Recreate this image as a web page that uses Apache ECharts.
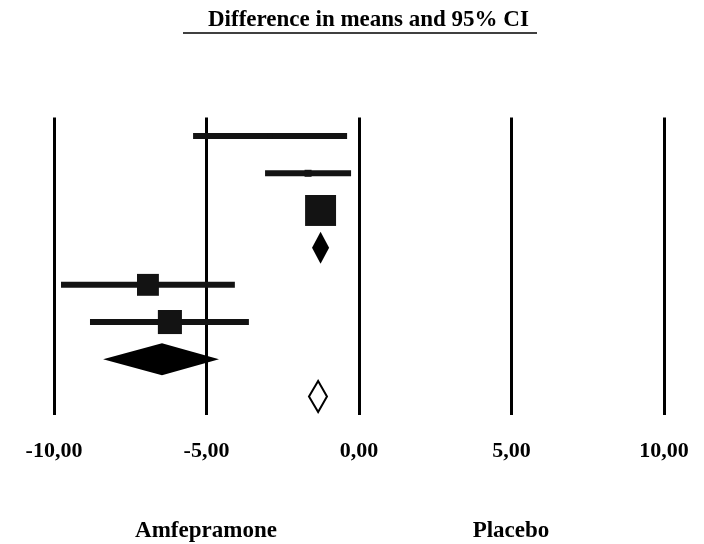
<!DOCTYPE html>
<html>
<head>
<meta charset="utf-8">
<script src="https://cdn.jsdelivr.net/npm/echarts@6/dist/echarts.min.js"></script>
<style>
  html, body { margin: 0; padding: 0; background: #fff; }
  #chart { width: 704px; height: 544px; }
</style>
</head>
<body>
<div id="chart"></div>
<script>
// Forest plot: difference in means with 95% CI, one row per study / pooled estimate
var rowKinds   = ['study', 'study', 'study', 'pooled', 'study', 'study', 'pooled', 'overall'];
var estimates  = [-2.92, -1.67, -1.26, -1.26, -6.92, -6.20, -6.46, -1.34];
var lowerCI    = [-5.44, -3.08, -1.52, -1.54, -9.77, -8.82, -8.39, -1.64];
var upperCI    = [-0.39, -0.26, -1.00, -0.98, -4.07, -3.61, -4.59, -1.05];
var weights    = [2.5, 4.9, 96, 0, 48, 58, 0, 0];
var tickValues = [-10, -5, 0, 5, 10];
var sideLabels = ['Amfepramone', 'Placebo'];

var rowIds = rowKinds.map(function (k, i) { return 'r' + i; });
var data = rowKinds.map(function (k, i) {
  return [i, estimates[i], lowerCI[i], upperCI[i], weights[i]];
});

var FONT = '"Liberation Serif", "DejaVu Serif", serif';
var chart = echarts.init(document.getElementById('chart'), null, { renderer: 'canvas' });

function renderRow(params, api) {
  var i = api.value(0);
  var kind = rowKinds[i];
  var est = api.coord([api.value(1), i]);
  var lo = api.coord([api.value(2), i]);
  var hi = api.coord([api.value(3), i]);
  var y = est[1];
  var children = [];
  if (kind === 'study') {
    children.push({
      type: 'line',
      shape: { x1: lo[0], y1: y, x2: hi[0], y2: y },
      style: { stroke: '#131313', lineWidth: 6 }
    });
    var side = Math.sqrt(api.value(4)) * 3.16;
    children.push({
      type: 'rect',
      shape: { x: est[0] - side / 2, y: y - side / 2, width: side, height: side },
      style: { fill: '#131313' }
    });
  } else {
    var h = kind === 'overall' ? 15.5 : 16;
    children.push({
      type: 'polygon',
      shape: { points: [[lo[0], y], [est[0], y - h], [hi[0], y], [est[0], y + h]] },
      style: kind === 'overall'
        ? { fill: '#fff', stroke: '#000', lineWidth: 2 }
        : { fill: '#000' }
    });
  }
  return { type: 'group', children: children };
}

chart.setOption({
  animation: false,
  backgroundColor: '#fff',
  title: {
    text: 'Difference in means and 95% CI',
    left: 203,
    top: 4,
    textStyle: { fontFamily: FONT, fontSize: 23, fontWeight: 'bold', color: '#000' }
  },
  graphic: [
    { type: 'line', shape: { x1: 183, y1: 33, x2: 537, y2: 33 }, style: { stroke: '#000', lineWidth: 1.5 } },
    { type: 'text', x: 206, y: 531, style: { text: sideLabels[0], fontFamily: FONT, fontSize: 23, fontWeight: 'bold', fill: '#000', align: 'center', verticalAlign: 'middle' } },
    { type: 'text', x: 511, y: 531, style: { text: sideLabels[1], fontFamily: FONT, fontSize: 23, fontWeight: 'bold', fill: '#000', align: 'center', verticalAlign: 'middle' } }
  ],
  grid: { left: 54, right: 40, top: 117.5, bottom: 129, containLabel: false },
  xAxis: {
    type: 'value',
    min: tickValues[0],
    max: tickValues[tickValues.length - 1],
    interval: 5,
    axisLine: { show: false },
    axisTick: { show: false },
    splitLine: { show: true, lineStyle: { color: '#000', width: 3 } },
    axisLabel: {
      margin: 25,
      fontFamily: FONT, fontSize: 22, fontWeight: 'bold', color: '#000',
      formatter: function (v) { return v.toFixed(2).replace('.', ','); }
    }
  },
  yAxis: {
    type: 'category',
    data: rowIds,
    inverse: true,
    show: false,
    splitLine: { show: false }
  },
  series: [{
    type: 'custom',
    renderItem: renderRow,
    encode: { x: [1, 2, 3], y: 0 },
    data: data,
    clip: false
  }]
});
</script>
</body>
</html>
